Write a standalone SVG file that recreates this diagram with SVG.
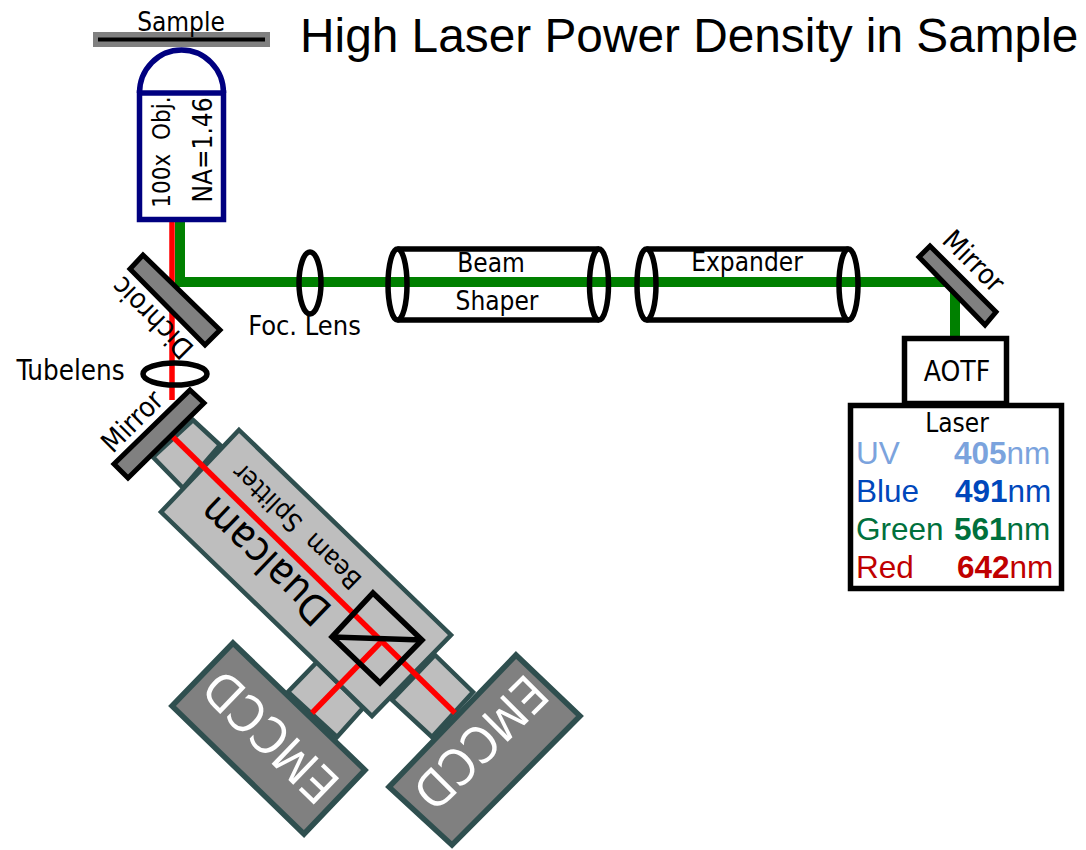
<svg xmlns="http://www.w3.org/2000/svg" width="1086" height="850" viewBox="0 0 1086 850">
<style>
text{font-family:"DejaVu Sans","Liberation Sans",sans-serif;font-stretch:condensed;fill:#000;text-anchor:middle}
.a{font-family:"Liberation Sans",Arial,sans-serif;font-stretch:normal;text-anchor:start;font-size:31.500px}
.b{font-weight:bold}
.uv{fill:#7ba3dd}.bl{fill:#0047bb}.gr{fill:#00703c}.rd{fill:#c00000}
.w{fill:#fff}
.o{fill:none;stroke:#000;stroke-width:5.500}
.m{fill:#808080;stroke:#000;stroke-width:5}
.t{fill:#bebebe;stroke:#2f4f4f;stroke-width:4.500}
.e{fill:#808080;stroke:#2f4f4f;stroke-width:5.500}
.n{fill:#fff;stroke:#000080;stroke-width:5.500}
.red{fill:none;stroke:#f00;stroke-width:5.500}
.grn{fill:none;stroke:#008000;stroke-width:10}
</style>
<rect width="1086" height="850" fill="#fff"/>
<g id="tube-top"><polygon class="t" points="193,420 220,445 183,488 153,457"/></g>
<g id="tube-left"><polygon class="t" points="317,662 363,708 337,737 288,692"/></g>
<g id="tube-right"><polygon class="t" points="435,655 473,692 432,737 392,700"/></g>
<g id="dualcam"><polygon class="t" points="239,430 451,635 372,716 161,512"/>
<text transform="translate(275,551) rotate(224)" font-size="41">Dualcam</text>
<text transform="translate(303,520) rotate(224)" font-size="26">Beam&#160;&#160;Splitter</text></g>
<g id="emccd-left"><polygon class="e" points="233,643 365,770 304,834 172,706"/>
<text class="w" transform="translate(283,724) rotate(224)" font-size="50">EMCCD</text></g>
<g id="emccd-right"><polygon class="e" points="516,655 580,716 452,845 389,787"/>
<text class="w" transform="translate(468,730) rotate(135)" font-size="50">EMCCD</text></g>
<g id="connectors">
<path class="red" d="M172 222V400"/>
<path class="red" d="M173 437L455 713"/>
<path class="red" d="M380 643L312 713"/>
<path class="grn" d="M180 222V282H955V337"/>
</g>
<g id="cube"><polygon class="o" points="373,593 422,640 380,683 332,637"/><path class="o" d="M332 637L422 640"/></g>
<g id="sample"><rect x="93" y="32" width="177" height="15" fill="#808080"/><path d="M98 39.500H265" stroke="#000" stroke-width="4" fill="none"/>
<text x="181" y="31" font-size="26">Sample</text></g>
<g id="objective"><path class="n" d="M139.500 93A42 43 0 0 1 223.500 93"/><rect class="n" x="139.500" y="93" width="84" height="126.500"/>
<text transform="translate(170,152) rotate(-90)" font-size="24">100x&#160;&#160;Obj.</text>
<text transform="translate(212,150) rotate(-90)" font-size="26">NA=1.46</text></g>
<g id="dichroic"><polygon class="m" points="143,255 220,330 205,345 130,269"/>
<text transform="translate(159,311) rotate(225)" font-size="28">Dichroic</text></g>
<g id="tubelens"><ellipse class="o" cx="175" cy="374" rx="32" ry="11"/><text x="70.500" y="380" font-size="27.500">Tubelens</text></g>
<g id="mirror-lower"><polygon class="m" points="190,390 204,403 128,478 114,464"/>
<text transform="translate(139,428) rotate(-45)" font-size="28">Mirror</text></g>
<g id="foc-lens"><ellipse class="o" cx="310" cy="283" rx="11" ry="31"/><text x="304.500" y="335" font-size="27">Foc. Lens</text></g>
<g id="beam-shaper"><path class="o" d="M397.500 249H599M397.500 320H599"/><ellipse class="o" cx="397.500" cy="284.500" rx="9.500" ry="35.500"/><ellipse class="o" cx="599" cy="284.500" rx="9.500" ry="35.500"/>
<text x="491" y="272" font-size="26">Beam</text><text x="497" y="310" font-size="26">Shaper</text></g>
<g id="expander"><path class="o" d="M646.500 249H848.500M646.500 320H848.500"/><ellipse class="o" cx="646.500" cy="284.500" rx="9.500" ry="35.500"/><ellipse class="o" cx="848.500" cy="284.500" rx="9.500" ry="35.500"/>
<text x="747" y="271" font-size="26">Expander</text></g>
<g id="mirror-right"><polygon class="m" points="930,246 996,312 985,325 919,257"/>
<text transform="translate(967,268) rotate(45)" font-size="28">Mirror</text></g>
<g id="aotf"><rect class="o" x="904.500" y="338.500" width="102" height="65"/><text x="957" y="381" font-size="28">AOTF</text></g>
<g id="laser"><rect class="o" x="850.500" y="405.500" width="211" height="183"/>
<text x="957" y="432" font-size="26">Laser</text>
<text class="a uv" x="856" y="464">UV<tspan class="b" x="954">405</tspan><tspan>nm</tspan></text>
<text class="a bl" x="856" y="502">Blue<tspan class="b" x="955">491</tspan><tspan>nm</tspan></text>
<text class="a gr" x="856" y="540">Green<tspan class="b" x="954">561</tspan><tspan>nm</tspan></text>
<text class="a rd" x="856" y="578">Red<tspan class="b" x="957">642</tspan><tspan>nm</tspan></text></g>
<text id="title" x="300" y="52" font-size="47.800" style="font-family:'Liberation Sans',Arial,sans-serif;font-stretch:normal;text-anchor:start">High Laser Power Density in Sample</text>
</svg>
